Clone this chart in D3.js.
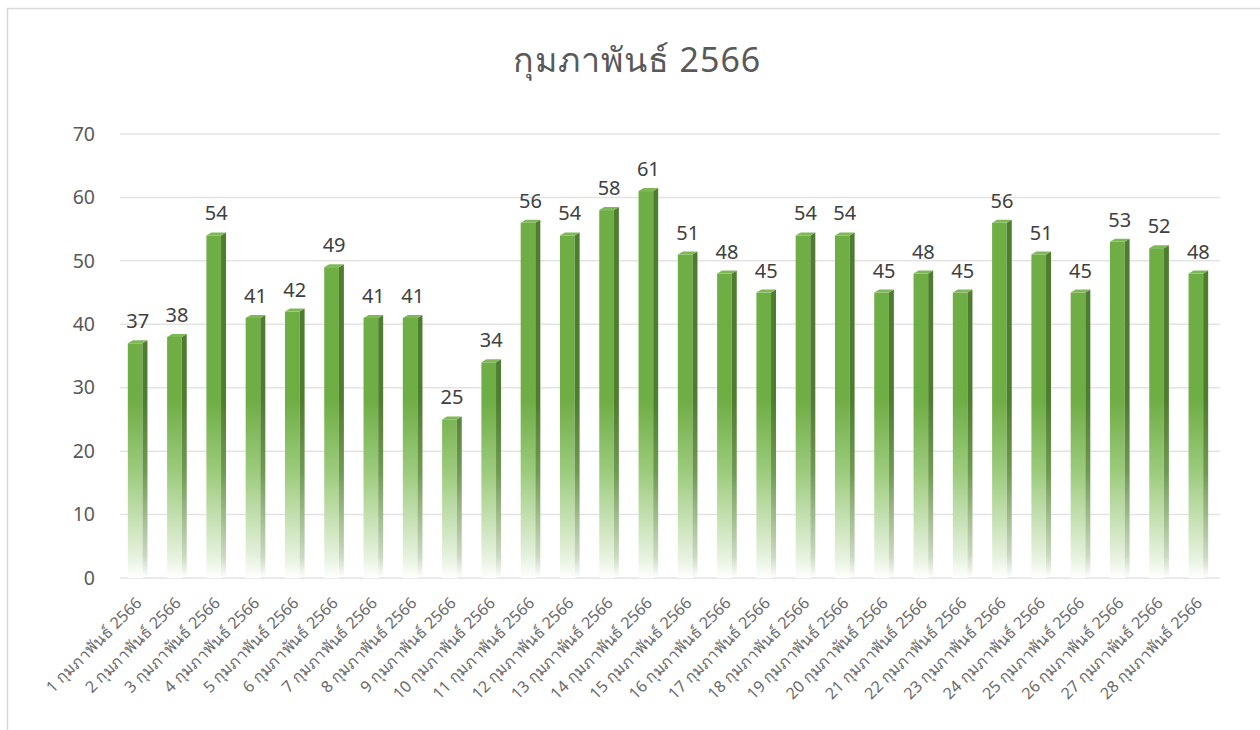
<!DOCTYPE html>
<html><head><meta charset="utf-8">
<script src="https://cdn.jsdelivr.net/npm/d3@7"></script>
<style>
html,body{margin:0;padding:0;background:#fff;}
svg{display:block;font-family:"Noto Sans","DejaVu Sans",sans-serif;}
</style></head>
<body><svg id="chart" width="1260" height="730"></svg>
<script>
const title = "กุมภาพันธ์ 2566";
const days = d3.range(1, 29);
const categories = days.map(d => d + " กุมภาพันธ์ 2566");
const values = [37,38,54,41,42,49,41,41,25,34,56,54,58,61,51,48,45,54,54,45,48,45,56,51,45,53,52,48];
const yTicks = [0,10,20,30,40,50,60,70];

const svg = d3.select("#chart");
const x = d3.scaleBand().domain(categories).range([118, 1218]).paddingInner(0.5).paddingOuter(0.25);
const y = d3.scaleLinear().domain([0, 70]).range([578, 134]);

// border
svg.append("rect").attr("x", 7.5).attr("y", 8.5).attr("width", 1300).attr("height", 800)
  .attr("fill", "#fff").attr("stroke", "#d9d9d9").attr("stroke-width", 1.5);

// title
svg.append("text").attr("x", 637).attr("y", 72).attr("text-anchor", "middle")
  .attr("font-size", 34).attr("fill", "#595959").attr("letter-spacing", 1).text(title);

// gradient
const defs = svg.append("defs");
const gFront = defs.append("linearGradient").attr("id", "gf").attr("gradientUnits", "userSpaceOnUse")
  .attr("x1", 0).attr("x2", 0).attr("y1", y(0)).attr("y2", y(28));
gFront.append("stop").attr("offset", 0).attr("stop-color", "#ffffff");
gFront.append("stop").attr("offset", 0.12).attr("stop-color", "#e6f1de");
gFront.append("stop").attr("offset", 0.6).attr("stop-color", "#9ccb7c");
gFront.append("stop").attr("offset", 1).attr("stop-color", "#6fad45");
const gSide = defs.append("linearGradient").attr("id", "gs").attr("gradientUnits", "userSpaceOnUse")
  .attr("x1", 0).attr("x2", 0).attr("y1", y(0)).attr("y2", y(28));
gSide.append("stop").attr("offset", 0).attr("stop-color", "#ffffff");
gSide.append("stop").attr("offset", 0.12).attr("stop-color", "#cbdac1");
gSide.append("stop").attr("offset", 0.6).attr("stop-color", "#6f9a52");
gSide.append("stop").attr("offset", 1).attr("stop-color", "#4e7d30");

// gridlines
svg.append("g").selectAll("line").data(yTicks).join("line")
  .attr("x1", 120).attr("x2", 1220)
  .attr("y1", d => y(d)).attr("y2", d => y(d))
  .attr("stroke", "#e3e3e3").attr("stroke-width", 1.5);

// y axis labels
const yAxis = d3.axisLeft(y).tickValues(yTicks).tickSize(0).tickPadding(0);
const ya = svg.append("g").attr("transform", "translate(95,0)").call(yAxis);
ya.select(".domain").remove();
ya.selectAll("text").attr("font-size", 19.5).attr("fill", "#595959").attr("font-family", "Noto Sans, sans-serif");

// bars
const dx = 5, dy = 3;
const bw = x.bandwidth() - dx;
const bars = svg.append("g").selectAll("g").data(values).join("g");
bars.append("rect")
  .attr("x", (d, i) => x(categories[i]))
  .attr("y", d => y(d))
  .attr("width", bw)
  .attr("height", d => y(0) - y(d))
  .attr("fill", "url(#gf)");
bars.append("path")
  .attr("d", (d, i) => {
    const x0 = x(categories[i]) + bw, t = y(d), b = y(0);
    return `M${x0},${t}L${x0 + dx},${t - dy}L${x0 + dx},${b - dy}L${x0},${b}Z`;
  })
  .attr("fill", "url(#gs)");
bars.append("path")
  .attr("d", (d, i) => {
    const x0 = x(categories[i]), t = y(d);
    return `M${x0},${t}L${x0 + dx},${t - dy}L${x0 + bw + dx},${t - dy}L${x0 + bw},${t}Z`;
  })
  .attr("fill", "#7fb857");

// value labels
svg.append("g").selectAll("text").data(values).join("text")
  .attr("x", (d, i) => x(categories[i]) + x.bandwidth() / 2)
  .attr("y", d => y(d) - 15)
  .attr("text-anchor", "middle")
  .attr("font-size", 20).attr("fill", "#404040")
  .text(d => d);

// x labels
svg.append("g").selectAll("text").data(categories).join("text")
  .attr("transform", (d) => `translate(${x(d) + x.bandwidth() / 2 + 1},${600}) rotate(-45)`)
  .attr("text-anchor", "end")
  .attr("dy", "0.35em")
  .attr("font-size", 16).attr("fill", "#6a6a6a")
  .text(d => d);
</script></body></html>
